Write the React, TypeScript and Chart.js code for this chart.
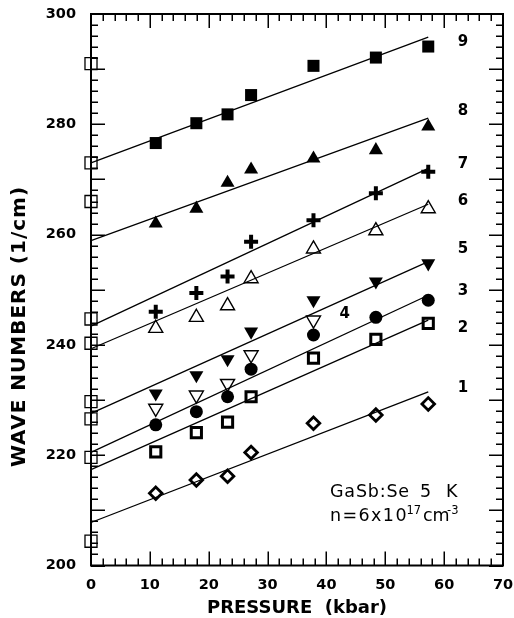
import { useEffect, useRef } from "react";
import { Chart, registerables } from "chart.js";

Chart.register(...registerables);

// ---- data ----
const pressure = [11, 17.9, 23.2, 27.2, 37.8, 48.4, 57.3];
const zeroPressure = [0, 0, 0, 0, 0, 0, 0, 0, 0];
const zeroPressureModes = [291, 273, 266, 244.7, 240.3, 229.7, 226.6, 219.6, 204.4];

const mode9 = [276.6, 280.2, 281.8, 285.3, 290.6, 292.1, 294.1];
const mode8 = [262.0, 264.7, 269.4, 271.8, 273.8, 275.3, 279.6];
const mode7 = [246.0, 249.4, 252.4, 258.7, 262.6, 267.5, 271.4];
const mode6 = [243.0, 245.0, 247.1, 252.0, 257.4, 260.7, 264.7];
const mode5 = [231.2, 234.5, 237.4, 242.4, 248.1, 251.5, 254.8];
const mode4 = [228.5, 230.9, 233.0, 238.2, 244.5];
const mode3 = [225.5, 227.9, 230.6, 235.6, 241.8, 245.0, 248.1];
const mode2 = [220.6, 224.1, 226.0, 230.6, 237.6, 241.0, 243.9];
const mode1 = [213.1, 215.5, 216.2, 220.5, 225.8, 227.3, 229.3];

// fitted lines: value at P = fitFrom and P = fitTo
const fitFrom = 0;
const fitTo = 57.3;
const fitStart = [273.0, 258.9, 243.4, 239.3, 227.6, 220.5, 217.4, 207.8];
const fitEnd = [295.8, 281.1, 272.0, 265.5, 255.1, 249.0, 244.5, 231.5];

// mode labels (data coordinates)
const modeLabels = ["9", "8", "7", "6", "5", "4", "3", "2", "1"];
const modeLabelX = [63.2, 63.2, 63.2, 63.2, 63.2, 43.1, 63.2, 63.2, 63.2];
const modeLabelY = [295.0, 282.6, 272.9, 266.3, 257.5, 245.7, 250.0, 243.3, 232.3];

// axes
const xMin = 0;
const xMax = 70;
const xLabelStep = 10;
const xMinorStep = 2;
const yMin = 200;
const yMax = 300;
const yLabelStep = 20;
const yMajorStep = 10;
const yMinorStep = 2;

const xTitle = "PRESSURE  (kbar)";
const yTitle = "WAVE NUMBERS (1/cm)";

const pts = (xs: number[], ys: number[]) => ys.map((v, i) => ({ x: xs[i], y: v }));

const framePlugin = {
  id: "frameTicks",
  afterDatasetsDraw(chart: any) {
    const { ctx, chartArea: a, scales } = chart;
    const x = scales.x;
    const y = scales.y;
    ctx.save();
    ctx.strokeStyle = "#000";
    ctx.lineWidth = 1.5;
    ctx.beginPath();
    for (let v = xMin; v <= xMax + 1e-6; v += xMinorStep) {
      const px = Math.round(x.getPixelForValue(v)) + 0.25;
      const len = v % xLabelStep === 0 ? 14 : 7;
      ctx.moveTo(px, a.bottom);
      ctx.lineTo(px, a.bottom - len);
      ctx.moveTo(px, a.top);
      ctx.lineTo(px, a.top + len);
    }
    for (let v = yMin; v <= yMax + 1e-6; v += yMinorStep) {
      const py = Math.round(y.getPixelForValue(v)) + 0.25;
      const len = v % yMajorStep === 0 ? 14 : 7;
      ctx.moveTo(a.left, py);
      ctx.lineTo(a.left + len, py);
      ctx.moveTo(a.right, py);
      ctx.lineTo(a.right - len, py);
    }
    ctx.stroke();
    ctx.lineWidth = 2;
    ctx.strokeRect(a.left, a.top, a.right - a.left, a.bottom - a.top);
    ctx.restore();
  },
  afterDraw(chart: any) {
    const { ctx, chartArea: a, scales } = chart;
    const x = scales.x;
    const y = scales.y;
    ctx.save();
    ctx.fillStyle = "#000";

    // axis titles
    (ctx as any).letterSpacing = "0px";
    ctx.font = "bold 18px 'DejaVu Sans'";
    ctx.textAlign = "center";
    ctx.textBaseline = "alphabetic";
    ctx.fillText(xTitle, (a.left + a.right) / 2, 613);

    ctx.save();
    ctx.translate(25, 326.5);
    ctx.rotate(-Math.PI / 2);
    (ctx as any).letterSpacing = "1px";
    ctx.font = "bold 20px 'DejaVu Sans'";
    ctx.fillText(yTitle, 0, 0);
    ctx.restore();

    // mode labels
    (ctx as any).letterSpacing = "0px";
    ctx.font = "bold 15px 'DejaVu Sans'";
    ctx.textAlign = "center";
    ctx.textBaseline = "middle";
    modeLabels.forEach((t, i) => {
      ctx.fillText(t, x.getPixelForValue(modeLabelX[i]), y.getPixelForValue(modeLabelY[i]) + 1);
    });

    // sample annotation
    ctx.textAlign = "left";
    ctx.textBaseline = "alphabetic";
    (ctx as any).letterSpacing = "0.8px";
    ctx.font = "17.5px 'DejaVu Sans'";
    ctx.fillText("GaSb:Se", 330, 497);
    ctx.fillText("5", 420, 497);
    ctx.fillText("K", 446, 497);
    (ctx as any).letterSpacing = "1.4px";
    ctx.fillText("n=6x10", 330, 521);
    (ctx as any).letterSpacing = "0px";
    ctx.fillText("cm", 423, 521);
    ctx.font = "11.5px 'DejaVu Sans'";
    ctx.fillText("17", 406.5, 514);
    ctx.fillText("-3", 447, 514);
    ctx.restore();
  },
};

export default function App() {
  const ref = useRef<HTMLCanvasElement | null>(null);

  useEffect(() => {
    if (!ref.current) return;
    const black = "#000";
    const clear = "rgba(0,0,0,0)";
    const fitDatasets = fitStart.map((s, i) => ({
      type: "line" as const,
      data: [
        { x: fitFrom, y: s },
        { x: fitTo, y: fitEnd[i] },
      ],
      borderColor: black,
      borderWidth: 1.3,
      pointRadius: 0,
      showLine: true,
      fill: false,
      clip: false as any,
      order: 2,
    }));
    const sc = (data: any[], extra: any) => ({
      type: "scatter" as const,
      data,
      borderColor: black,
      backgroundColor: black,
      clip: false as any,
      order: 1,
      ...extra,
    });
    const chart = new Chart(ref.current, {
      type: "scatter",
      data: {
        datasets: [
          ...fitDatasets,
          sc(pts(zeroPressure, zeroPressureModes), { pointStyle: "rect", pointRadius: 8.5, borderWidth: 1.3, backgroundColor: clear }),
          sc(pts(pressure, mode9), { pointStyle: "rect", pointRadius: 8.5, borderWidth: 0 }),
          sc(pts(pressure, mode8), { pointStyle: "triangle", pointRadius: 8.1, borderWidth: 0 }),
          sc(pts(pressure, mode7), { pointStyle: "cross", pointRadius: 7, borderWidth: 4 }),
          sc(pts(pressure, mode6), { pointStyle: "triangle", pointRadius: 8.1, borderWidth: 1.4, backgroundColor: clear }),
          sc(pts(pressure, mode5), { pointStyle: "triangle", rotation: 180, pointRadius: 8.1, borderWidth: 0 }),
          sc(pts(pressure, mode4), { pointStyle: "triangle", rotation: 180, pointRadius: 8.1, borderWidth: 1.4, backgroundColor: clear }),
          sc(pts(pressure, mode3), { pointStyle: "circle", pointRadius: 6.5, borderWidth: 0 }),
          sc(pts(pressure, mode2), { pointStyle: "rect", pointRadius: 7.2, borderWidth: 3, backgroundColor: clear }),
          sc(pts(pressure, mode1), { pointStyle: "rectRot", pointRadius: 6.3, borderWidth: 2.8, backgroundColor: clear }),
        ],
      },
      options: {
        animation: false,
        responsive: false,
        maintainAspectRatio: false,
        layout: { padding: { top: 14, right: 8, left: 0, bottom: 0 } },
        plugins: { legend: { display: false }, tooltip: { enabled: false } },
        elements: { line: { tension: 0 } },
        scales: {
          x: {
            type: "linear",
            min: xMin,
            max: xMax,
            grid: { display: false, drawTicks: false },
            border: { display: false },
            ticks: {
              stepSize: xLabelStep,
              padding: 11,
              color: "#000",
              font: { family: "'DejaVu Sans'", weight: "bold", size: 14.5 },
              maxRotation: 0,
            },
            afterFit(s: any) {
              s.height = 52.5;
              s.paddingLeft = 0;
              s.paddingRight = 0;
            },
          },
          y: {
            type: "linear",
            min: yMin,
            max: yMax,
            grid: { display: false, drawTicks: false },
            border: { display: false },
            ticks: {
              stepSize: yLabelStep,
              padding: 15,
              color: "#000",
              font: { family: "'DejaVu Sans'", weight: "bold", size: 14.5 },
            },
            afterFit(s: any) {
              s.width = 91;
              s.paddingTop = 0;
              s.paddingBottom = 0;
            },
          },
        },
      } as any,
      plugins: [framePlugin],
    });
    return () => chart.destroy();
  }, []);

  return (
    <div style={{ position: "fixed", left: 0, top: 0, width: 514, height: 618, background: "#fff" }}>
      <canvas ref={ref} width={514} height={618} style={{ display: "block" }} />
    </div>
  );
}
